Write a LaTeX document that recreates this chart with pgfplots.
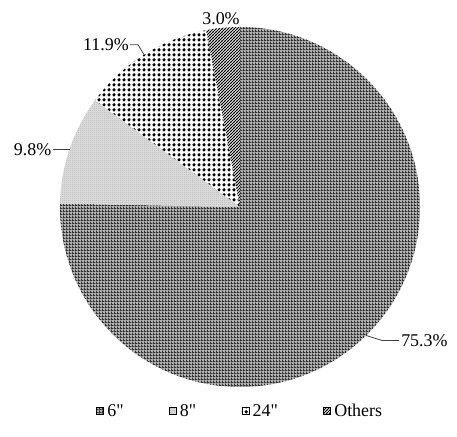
\documentclass[border=0pt]{standalone}
\usepackage{pgfplots}
\pgfplotsset{compat=1.18}
\usepackage{pgfplotstable}
\usetikzlibrary{patterns}
\usepackage{fontspec}
\setmainfont{Liberation Serif}[Ligatures=TeXOff]

% fine grid (6")
\pgfdeclarepatternformonly{pgrid}{\pgfpointorigin}{\pgfpoint{3bp}{3bp}}{\pgfpoint{3bp}{3bp}}{%
  \pgfpathrectangle{\pgfpointorigin}{\pgfpoint{3bp}{1bp}}%
  \pgfpathrectangle{\pgfpointorigin}{\pgfpoint{1bp}{3bp}}%
  \pgfusepath{fill}}
% fine dots (8")
\pgfdeclarepatternformonly{pfdots}{\pgfpointorigin}{\pgfpoint{2bp}{2bp}}{\pgfpoint{2bp}{2bp}}{%
  \pgfpathrectangle{\pgfpointorigin}{\pgfpoint{1bp}{1bp}}%
  \pgfusepath{fill}}
% big dots (24")
\pgfdeclarepatternformonly{pbdots}{\pgfpointorigin}{\pgfpoint{4.6bp}{4.6bp}}{\pgfpoint{4.6bp}{4.6bp}}{%
  \pgfpathcircle{\pgfpoint{2.3bp}{2.3bp}}{1.9bp}%
  \pgfusepath{fill}}
% diagonal lines (Others)
\pgfdeclarepatternformonly{pdiag}{\pgfpoint{-1bp}{-1bp}}{\pgfpoint{4bp}{4bp}}{\pgfpoint{3bp}{3bp}}{%
  \pgfsetlinewidth{0.9bp}%
  \pgfpathmoveto{\pgfpoint{-0.5bp}{-0.5bp}}\pgfpathlineto{\pgfpoint{3.5bp}{3.5bp}}%
  \pgfusepath{stroke}}

\tikzset{
  sA/.style={fill=black!30, postaction={pattern=pgrid, pattern color=black!80}},
  sB/.style={fill=black!15, postaction={pattern=pfdots, pattern color=black!35}},
  sC/.style={fill=white, postaction={pattern=pbdots, pattern color=black}},
  sD/.style={fill=white, postaction={pattern=pdiag, pattern color=black}},
}

\pgfplotstableread{
name value
6in 75.3
8in 9.8
24in 11.9
Others 3.0
}\piedata

\begin{document}
\begin{tikzpicture}
\pgfplotstablegetelem{0}{value}\of\piedata \let\vA\pgfplotsretval
\pgfplotstablegetelem{1}{value}\of\piedata \let\vB\pgfplotsretval
\pgfplotstablegetelem{2}{value}\of\piedata \let\vC\pgfplotsretval
\pgfplotstablegetelem{3}{value}\of\piedata \let\vD\pgfplotsretval
\pgfmathsetmacro\aA{90}
\pgfmathsetmacro\aB{\aA-3.6*\vA}
\pgfmathsetmacro\aC{\aB-3.6*\vB}
\pgfmathsetmacro\aD{\aC-3.6*\vC}
\pgfmathsetmacro\aE{\aD-3.6*\vD}
\pgfmathsetmacro\mA{(\aA+\aB)/2}
\pgfmathsetmacro\mB{(\aB+\aC)/2}
\pgfmathsetmacro\mC{(\aC+\aD)/2}
\def\R{180bp}
\begin{axis}[
  x=1bp, y=1bp, xmin=0, xmax=457, ymin=0, ymax=437,
  hide axis, clip=false, disabledatascaling,
  legend columns=4,
  legend style={at={(axis cs:241,26)}, anchor=center, draw=none, fill=none,
    font=\fontsize{18}{21}\selectfont, inner sep=0pt,
    nodes={inner xsep=3.5bp, inner ysep=0pt},
    /tikz/every even column/.append style={column sep=42bp}},
  legend cell align=left,
]
\path (axis cs:0,0) rectangle (axis cs:457,437);
\addlegendimage{legend image code/.code={\path[sA] (0bp,-3.5bp) rectangle (7bp,3.5bp);}}
\addlegendentry{6"}
\addlegendimage{legend image code/.code={\path[sB] (0bp,-3.5bp) rectangle (7bp,3.5bp);}}
\addlegendentry{8"}
\addlegendimage{legend image code/.code={\path[sC] (0bp,-3.5bp) rectangle (7bp,3.5bp);}}
\addlegendentry{24"}
\addlegendimage{legend image code/.code={\path[sD] (0bp,-3.5bp) rectangle (7bp,3.5bp);}}
\addlegendentry{Others}

\path[sA] (axis cs:240,230) -- ++(\aA:\R) arc[start angle=\aA, end angle=\aB, radius=\R] -- cycle;
\path[sB] (axis cs:240,230) -- ++(\aB:\R) arc[start angle=\aB, end angle=\aC, radius=\R] -- cycle;
\path[sC] (axis cs:240,230) -- ++(\aC:\R) arc[start angle=\aC, end angle=\aD, radius=\R] -- cycle;
\path[sD] (axis cs:240,230) -- ++(\aD:\R) arc[start angle=\aD, end angle=\aE, radius=\R] -- cycle;

% labels
\tikzset{lbl/.style={font=\fontsize{18}{21}\selectfont, inner sep=0pt}}
\node[lbl, anchor=base] at (axis cs:221,412) {3.0\%};
\draw[black!75, line width=0.8bp] (axis cs:240,230) ++(\mC:\R) -- ++(-6bp,10bp) -- ++(-8bp,0bp) coordinate (l3);
\node[lbl, anchor=east, xshift=-1bp] at (l3) {11.9\%};
\draw[black!75, line width=0.8bp] (axis cs:240,230) ++(\mB:\R) -- ++(-17bp,0bp) coordinate (l2);
\node[lbl, anchor=east, xshift=-1bp] at (l2) {9.8\%};
\draw[black!75, line width=0.8bp] (axis cs:240,230) ++(\mA:\R) -- ++(16bp,-5bp) -- ++(17bp,0bp) coordinate (l1);
\node[lbl, anchor=west, xshift=2bp] at (l1) {75.3\%};
\end{axis}
\end{tikzpicture}
\end{document}
